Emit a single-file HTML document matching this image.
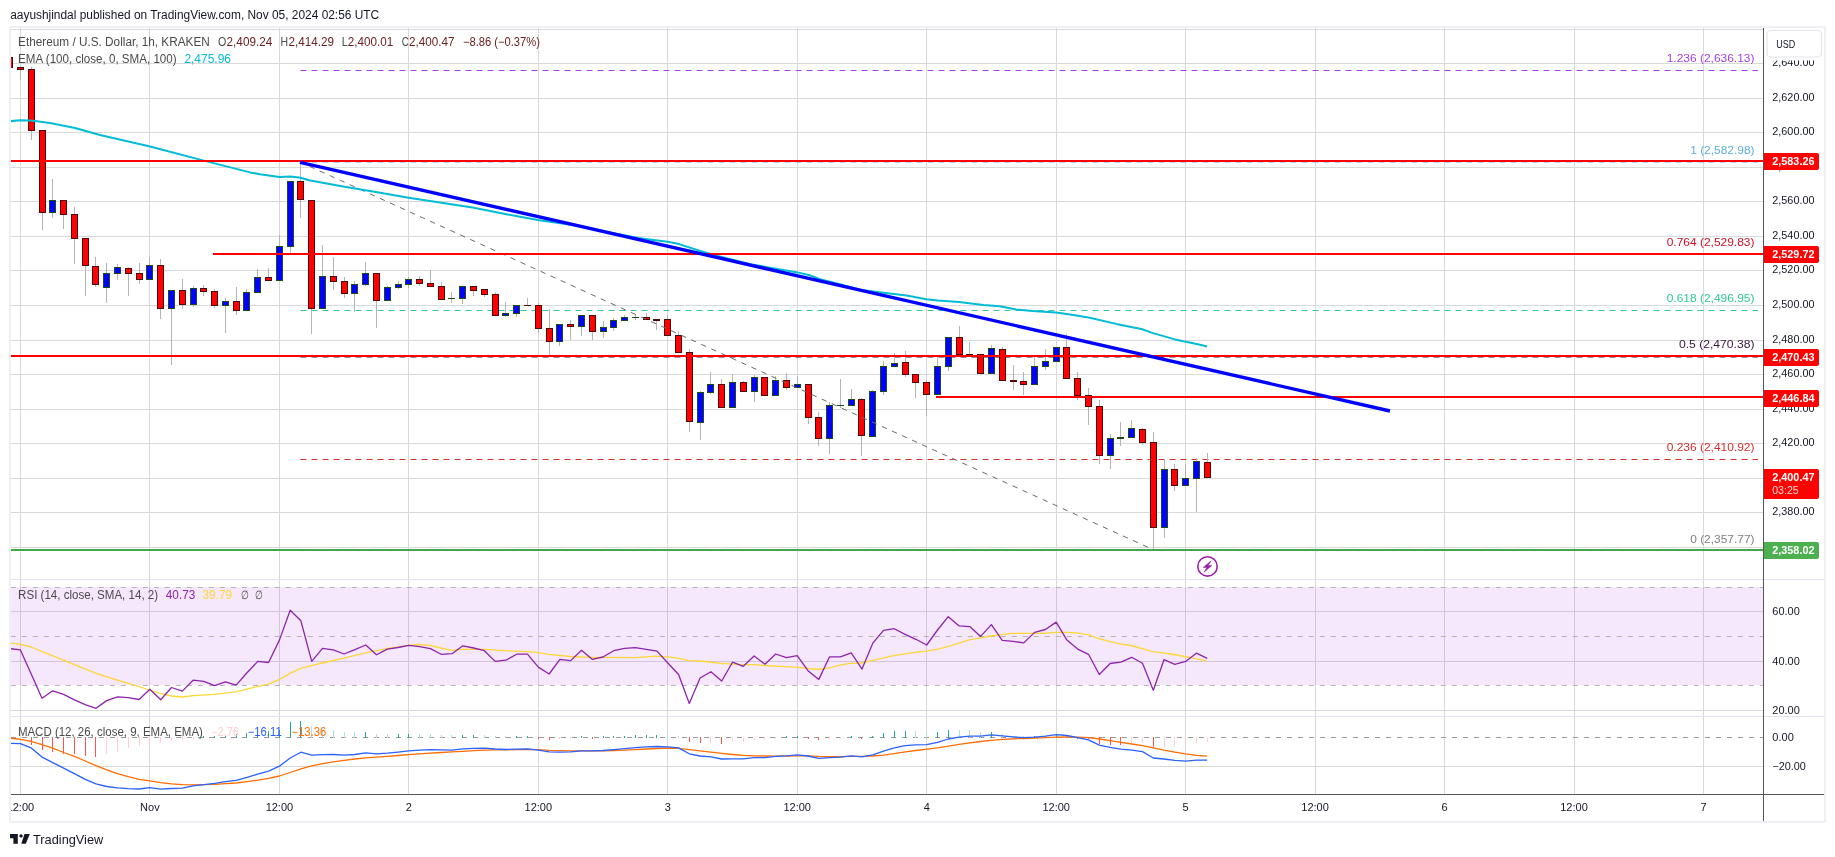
<!DOCTYPE html><html><head><meta charset="utf-8"><title>ETHUSD</title><style>html,body{margin:0;padding:0;background:#fff}body{width:1835px;height:857px;overflow:hidden;font-family:"Liberation Sans",sans-serif}</style></head><body><svg width="1835" height="857" viewBox="0 0 1835 857" style="display:block;will-change:transform;opacity:0.999">
<rect width="1835" height="857" fill="#fff"/>
<rect x="10" y="27" width="1815" height="795" fill="#fff" stroke="#eef0f6" stroke-width="2"/>
<defs><clipPath id="cm"><rect x="11" y="28" width="1752" height="551"/></clipPath><clipPath id="cr"><rect x="11" y="580" width="1752" height="136"/></clipPath><clipPath id="cd"><rect x="11" y="717" width="1752" height="77"/></clipPath></defs>
<g shape-rendering="crispEdges" fill="#d9d9d9">
<rect x="20" y="28" width="1" height="766"/>
<rect x="149" y="28" width="1" height="766"/>
<rect x="279" y="28" width="1" height="766"/>
<rect x="408" y="28" width="1" height="766"/>
<rect x="538" y="28" width="1" height="766"/>
<rect x="667" y="28" width="1" height="766"/>
<rect x="797" y="28" width="1" height="766"/>
<rect x="926" y="28" width="1" height="766"/>
<rect x="1056" y="28" width="1" height="766"/>
<rect x="1185" y="28" width="1" height="766"/>
<rect x="1315" y="28" width="1" height="766"/>
<rect x="1444" y="28" width="1" height="766"/>
<rect x="1574" y="28" width="1" height="766"/>
<rect x="1703" y="28" width="1" height="766"/>
<rect x="11" y="29" width="1752" height="1"/>
<rect x="11" y="63" width="1752" height="1"/>
<rect x="11" y="98" width="1752" height="1"/>
<rect x="11" y="132" width="1752" height="1"/>
<rect x="11" y="167" width="1752" height="1"/>
<rect x="11" y="201" width="1752" height="1"/>
<rect x="11" y="236" width="1752" height="1"/>
<rect x="11" y="270" width="1752" height="1"/>
<rect x="11" y="305" width="1752" height="1"/>
<rect x="11" y="340" width="1752" height="1"/>
<rect x="11" y="374" width="1752" height="1"/>
<rect x="11" y="409" width="1752" height="1"/>
<rect x="11" y="443" width="1752" height="1"/>
<rect x="11" y="478" width="1752" height="1"/>
<rect x="11" y="512" width="1752" height="1"/>
<rect x="11" y="547" width="1752" height="1"/>
<rect x="11" y="611" width="1752" height="1"/>
<rect x="11" y="661" width="1752" height="1"/>
<rect x="11" y="710" width="1752" height="1"/>
<rect x="11" y="766" width="1752" height="1"/>
</g>
<rect x="11" y="587" width="1752" height="98" fill="rgb(170,60,230)" fill-opacity="0.12"/>
<g shape-rendering="crispEdges" fill="#e0e3eb"><rect x="11" y="579" width="1813" height="1"/><rect x="11" y="716" width="1813" height="1"/></g>
<g clip-path="url(#cm)">
<line x1="300.5" y1="70.5" x2="1758" y2="70.5" stroke="#a541e0" stroke-width="1.2" stroke-dasharray="6 5"/>
<line x1="300.5" y1="162.0" x2="1758" y2="162.0" stroke="#5cb0dc" stroke-width="1.2" stroke-dasharray="6 5"/>
<line x1="300.5" y1="254.0" x2="1758" y2="254.0" stroke="#cc1028" stroke-width="1.2" stroke-dasharray="6 5"/>
<line x1="300.5" y1="310.5" x2="1758" y2="310.5" stroke="#2fc894" stroke-width="1.2" stroke-dasharray="6 5"/>
<line x1="300.5" y1="356.9" x2="1758" y2="356.9" stroke="#3a1540" stroke-width="1.2" stroke-dasharray="6 5"/>
<line x1="300.5" y1="459.5" x2="1758" y2="459.5" stroke="#d32f2f" stroke-width="1.2" stroke-dasharray="6 5"/>
<g shape-rendering="crispEdges">
<rect x="9" y="57" width="1" height="10" fill="#b4b4b4"/>
<rect x="20" y="67" width="1" height="13" fill="#b4b4b4"/>
<rect x="31" y="67" width="1" height="73" fill="#b4b4b4"/>
<rect x="42" y="130" width="1" height="100" fill="#b4b4b4"/>
<rect x="52" y="179" width="1" height="39" fill="#b4b4b4"/>
<rect x="63" y="200" width="1" height="29" fill="#b4b4b4"/>
<rect x="74" y="207" width="1" height="57" fill="#b4b4b4"/>
<rect x="85" y="238" width="1" height="58" fill="#b4b4b4"/>
<rect x="95" y="257" width="1" height="30" fill="#b4b4b4"/>
<rect x="106" y="263" width="1" height="40" fill="#b4b4b4"/>
<rect x="117" y="264" width="1" height="16" fill="#b4b4b4"/>
<rect x="128" y="267" width="1" height="29" fill="#b4b4b4"/>
<rect x="139" y="263" width="1" height="21" fill="#b4b4b4"/>
<rect x="149" y="257" width="1" height="23" fill="#b4b4b4"/>
<rect x="160" y="259" width="1" height="60" fill="#b4b4b4"/>
<rect x="171" y="290" width="1" height="75" fill="#b4b4b4"/>
<rect x="182" y="279" width="1" height="30" fill="#b4b4b4"/>
<rect x="193" y="286" width="1" height="21" fill="#b4b4b4"/>
<rect x="203" y="285" width="1" height="11" fill="#b4b4b4"/>
<rect x="214" y="289" width="1" height="19" fill="#b4b4b4"/>
<rect x="225" y="298" width="1" height="35" fill="#b4b4b4"/>
<rect x="236" y="287" width="1" height="28" fill="#b4b4b4"/>
<rect x="246" y="289" width="1" height="22" fill="#b4b4b4"/>
<rect x="257" y="269" width="1" height="23" fill="#b4b4b4"/>
<rect x="268" y="268" width="1" height="13" fill="#b4b4b4"/>
<rect x="279" y="235" width="1" height="45" fill="#b4b4b4"/>
<rect x="290" y="181" width="1" height="72" fill="#b4b4b4"/>
<rect x="300" y="162" width="1" height="56" fill="#b4b4b4"/>
<rect x="311" y="200" width="1" height="134" fill="#b4b4b4"/>
<rect x="322" y="245" width="1" height="63" fill="#b4b4b4"/>
<rect x="333" y="257" width="1" height="33" fill="#b4b4b4"/>
<rect x="344" y="277" width="1" height="21" fill="#b4b4b4"/>
<rect x="354" y="281" width="1" height="31" fill="#b4b4b4"/>
<rect x="365" y="262" width="1" height="24" fill="#b4b4b4"/>
<rect x="376" y="273" width="1" height="55" fill="#b4b4b4"/>
<rect x="387" y="286" width="1" height="15" fill="#b4b4b4"/>
<rect x="398" y="281" width="1" height="8" fill="#b4b4b4"/>
<rect x="408" y="277" width="1" height="11" fill="#b4b4b4"/>
<rect x="419" y="276" width="1" height="10" fill="#b4b4b4"/>
<rect x="430" y="270" width="1" height="17" fill="#b4b4b4"/>
<rect x="441" y="282" width="1" height="18" fill="#b4b4b4"/>
<rect x="451" y="292" width="1" height="11" fill="#b4b4b4"/>
<rect x="462" y="286" width="1" height="18" fill="#b4b4b4"/>
<rect x="473" y="286" width="1" height="10" fill="#b4b4b4"/>
<rect x="484" y="289" width="1" height="8" fill="#b4b4b4"/>
<rect x="495" y="292" width="1" height="24" fill="#b4b4b4"/>
<rect x="505" y="302" width="1" height="15" fill="#b4b4b4"/>
<rect x="516" y="305" width="1" height="12" fill="#b4b4b4"/>
<rect x="527" y="298" width="1" height="8" fill="#b4b4b4"/>
<rect x="538" y="303" width="1" height="30" fill="#b4b4b4"/>
<rect x="549" y="309" width="1" height="46" fill="#b4b4b4"/>
<rect x="559" y="324" width="1" height="22" fill="#b4b4b4"/>
<rect x="570" y="320" width="1" height="20" fill="#b4b4b4"/>
<rect x="581" y="315" width="1" height="21" fill="#b4b4b4"/>
<rect x="592" y="315" width="1" height="25" fill="#b4b4b4"/>
<rect x="603" y="321" width="1" height="17" fill="#b4b4b4"/>
<rect x="613" y="318" width="1" height="13" fill="#b4b4b4"/>
<rect x="624" y="315" width="1" height="5" fill="#b4b4b4"/>
<rect x="635" y="315" width="1" height="5" fill="#b4b4b4"/>
<rect x="646" y="313" width="1" height="7" fill="#b4b4b4"/>
<rect x="656" y="319" width="1" height="11" fill="#b4b4b4"/>
<rect x="667" y="315" width="1" height="20" fill="#b4b4b4"/>
<rect x="678" y="331" width="1" height="21" fill="#b4b4b4"/>
<rect x="689" y="349" width="1" height="83" fill="#b4b4b4"/>
<rect x="700" y="391" width="1" height="49" fill="#b4b4b4"/>
<rect x="710" y="372" width="1" height="22" fill="#b4b4b4"/>
<rect x="721" y="379" width="1" height="29" fill="#b4b4b4"/>
<rect x="732" y="374" width="1" height="34" fill="#b4b4b4"/>
<rect x="743" y="381" width="1" height="10" fill="#b4b4b4"/>
<rect x="754" y="375" width="1" height="27" fill="#b4b4b4"/>
<rect x="764" y="377" width="1" height="19" fill="#b4b4b4"/>
<rect x="775" y="376" width="1" height="20" fill="#b4b4b4"/>
<rect x="786" y="373" width="1" height="17" fill="#b4b4b4"/>
<rect x="797" y="376" width="1" height="11" fill="#b4b4b4"/>
<rect x="808" y="384" width="1" height="40" fill="#b4b4b4"/>
<rect x="818" y="412" width="1" height="34" fill="#b4b4b4"/>
<rect x="829" y="402" width="1" height="52" fill="#b4b4b4"/>
<rect x="840" y="379" width="1" height="29" fill="#b4b4b4"/>
<rect x="851" y="389" width="1" height="17" fill="#b4b4b4"/>
<rect x="861" y="398" width="1" height="58" fill="#b4b4b4"/>
<rect x="872" y="390" width="1" height="47" fill="#b4b4b4"/>
<rect x="883" y="361" width="1" height="34" fill="#b4b4b4"/>
<rect x="894" y="353" width="1" height="14" fill="#b4b4b4"/>
<rect x="905" y="351" width="1" height="26" fill="#b4b4b4"/>
<rect x="915" y="374" width="1" height="24" fill="#b4b4b4"/>
<rect x="926" y="380" width="1" height="36" fill="#b4b4b4"/>
<rect x="937" y="357" width="1" height="37" fill="#b4b4b4"/>
<rect x="948" y="337" width="1" height="34" fill="#b4b4b4"/>
<rect x="959" y="326" width="1" height="28" fill="#b4b4b4"/>
<rect x="969" y="342" width="1" height="13" fill="#b4b4b4"/>
<rect x="980" y="354" width="1" height="19" fill="#b4b4b4"/>
<rect x="991" y="345" width="1" height="28" fill="#b4b4b4"/>
<rect x="1002" y="347" width="1" height="33" fill="#b4b4b4"/>
<rect x="1013" y="365" width="1" height="25" fill="#b4b4b4"/>
<rect x="1023" y="372" width="1" height="23" fill="#b4b4b4"/>
<rect x="1034" y="357" width="1" height="27" fill="#b4b4b4"/>
<rect x="1045" y="349" width="1" height="21" fill="#b4b4b4"/>
<rect x="1056" y="347" width="1" height="15" fill="#b4b4b4"/>
<rect x="1066" y="334" width="1" height="45" fill="#b4b4b4"/>
<rect x="1077" y="372" width="1" height="28" fill="#b4b4b4"/>
<rect x="1088" y="388" width="1" height="37" fill="#b4b4b4"/>
<rect x="1099" y="400" width="1" height="64" fill="#b4b4b4"/>
<rect x="1110" y="434" width="1" height="35" fill="#b4b4b4"/>
<rect x="1120" y="422" width="1" height="24" fill="#b4b4b4"/>
<rect x="1131" y="420" width="1" height="18" fill="#b4b4b4"/>
<rect x="1142" y="428" width="1" height="17" fill="#b4b4b4"/>
<rect x="1153" y="432" width="1" height="117" fill="#b4b4b4"/>
<rect x="1164" y="459" width="1" height="79" fill="#b4b4b4"/>
<rect x="1174" y="464" width="1" height="27" fill="#b4b4b4"/>
<rect x="1185" y="464" width="1" height="22" fill="#b4b4b4"/>
<rect x="1196" y="458" width="1" height="54" fill="#b4b4b4"/>
<rect x="1207" y="453" width="1" height="25" fill="#b4b4b4"/>
<rect x="6" y="57" width="7" height="11" fill="#4d0a0a"/>
<rect x="7" y="58" width="5" height="9" fill="#ff0000"/>
<rect x="17" y="67" width="7" height="3" fill="#4d0a0a"/>
<rect x="18" y="68" width="5" height="1" fill="#ff0000"/>
<rect x="28" y="69" width="7" height="62" fill="#4d0a0a"/>
<rect x="29" y="70" width="5" height="60" fill="#ff0000"/>
<rect x="39" y="130" width="7" height="83" fill="#4d0a0a"/>
<rect x="40" y="131" width="5" height="81" fill="#ff0000"/>
<rect x="49" y="200" width="7" height="13" fill="#1d4a1d"/>
<rect x="50" y="201" width="5" height="11" fill="#0000ff"/>
<rect x="60" y="200" width="7" height="15" fill="#4d0a0a"/>
<rect x="61" y="201" width="5" height="13" fill="#ff0000"/>
<rect x="71" y="214" width="7" height="25" fill="#4d0a0a"/>
<rect x="72" y="215" width="5" height="23" fill="#ff0000"/>
<rect x="82" y="238" width="7" height="28" fill="#4d0a0a"/>
<rect x="83" y="239" width="5" height="26" fill="#ff0000"/>
<rect x="92" y="266" width="7" height="19" fill="#4d0a0a"/>
<rect x="93" y="267" width="5" height="17" fill="#ff0000"/>
<rect x="103" y="273" width="7" height="15" fill="#1d4a1d"/>
<rect x="104" y="274" width="5" height="13" fill="#0000ff"/>
<rect x="114" y="267" width="7" height="7" fill="#1d4a1d"/>
<rect x="115" y="268" width="5" height="5" fill="#0000ff"/>
<rect x="125" y="268" width="7" height="6" fill="#4d0a0a"/>
<rect x="126" y="269" width="5" height="4" fill="#ff0000"/>
<rect x="136" y="273" width="7" height="7" fill="#4d0a0a"/>
<rect x="137" y="274" width="5" height="5" fill="#ff0000"/>
<rect x="146" y="265" width="7" height="15" fill="#1d4a1d"/>
<rect x="147" y="266" width="5" height="13" fill="#0000ff"/>
<rect x="157" y="265" width="7" height="44" fill="#4d0a0a"/>
<rect x="158" y="266" width="5" height="42" fill="#ff0000"/>
<rect x="168" y="290" width="7" height="19" fill="#1d4a1d"/>
<rect x="169" y="291" width="5" height="17" fill="#0000ff"/>
<rect x="179" y="290" width="7" height="15" fill="#4d0a0a"/>
<rect x="180" y="291" width="5" height="13" fill="#ff0000"/>
<rect x="190" y="288" width="7" height="17" fill="#1d4a1d"/>
<rect x="191" y="289" width="5" height="15" fill="#0000ff"/>
<rect x="200" y="288" width="7" height="4" fill="#4d0a0a"/>
<rect x="201" y="289" width="5" height="2" fill="#ff0000"/>
<rect x="211" y="291" width="7" height="15" fill="#4d0a0a"/>
<rect x="212" y="292" width="5" height="13" fill="#ff0000"/>
<rect x="222" y="301" width="7" height="5" fill="#1d4a1d"/>
<rect x="223" y="302" width="5" height="3" fill="#0000ff"/>
<rect x="233" y="301" width="7" height="10" fill="#4d0a0a"/>
<rect x="234" y="302" width="5" height="8" fill="#ff0000"/>
<rect x="243" y="292" width="7" height="19" fill="#1d4a1d"/>
<rect x="244" y="293" width="5" height="17" fill="#0000ff"/>
<rect x="254" y="277" width="7" height="16" fill="#1d4a1d"/>
<rect x="255" y="278" width="5" height="14" fill="#0000ff"/>
<rect x="265" y="277" width="7" height="4" fill="#4d0a0a"/>
<rect x="266" y="278" width="5" height="2" fill="#ff0000"/>
<rect x="276" y="246" width="7" height="35" fill="#1d4a1d"/>
<rect x="277" y="247" width="5" height="33" fill="#0000ff"/>
<rect x="287" y="181" width="7" height="66" fill="#1d4a1d"/>
<rect x="288" y="182" width="5" height="64" fill="#0000ff"/>
<rect x="297" y="181" width="7" height="19" fill="#4d0a0a"/>
<rect x="298" y="182" width="5" height="17" fill="#ff0000"/>
<rect x="308" y="200" width="7" height="109" fill="#4d0a0a"/>
<rect x="309" y="201" width="5" height="107" fill="#ff0000"/>
<rect x="319" y="276" width="7" height="33" fill="#1d4a1d"/>
<rect x="320" y="277" width="5" height="31" fill="#0000ff"/>
<rect x="330" y="276" width="7" height="6" fill="#4d0a0a"/>
<rect x="331" y="277" width="5" height="4" fill="#ff0000"/>
<rect x="341" y="281" width="7" height="13" fill="#4d0a0a"/>
<rect x="342" y="282" width="5" height="11" fill="#ff0000"/>
<rect x="351" y="284" width="7" height="10" fill="#1d4a1d"/>
<rect x="352" y="285" width="5" height="8" fill="#0000ff"/>
<rect x="362" y="273" width="7" height="12" fill="#1d4a1d"/>
<rect x="363" y="274" width="5" height="10" fill="#0000ff"/>
<rect x="373" y="273" width="7" height="28" fill="#4d0a0a"/>
<rect x="374" y="274" width="5" height="26" fill="#ff0000"/>
<rect x="384" y="287" width="7" height="14" fill="#1d4a1d"/>
<rect x="385" y="288" width="5" height="12" fill="#0000ff"/>
<rect x="395" y="284" width="7" height="4" fill="#1d4a1d"/>
<rect x="396" y="285" width="5" height="2" fill="#0000ff"/>
<rect x="405" y="279" width="7" height="6" fill="#1d4a1d"/>
<rect x="406" y="280" width="5" height="4" fill="#0000ff"/>
<rect x="416" y="279" width="7" height="5" fill="#4d0a0a"/>
<rect x="417" y="280" width="5" height="3" fill="#ff0000"/>
<rect x="427" y="283" width="7" height="4" fill="#4d0a0a"/>
<rect x="428" y="284" width="5" height="2" fill="#ff0000"/>
<rect x="438" y="286" width="7" height="14" fill="#4d0a0a"/>
<rect x="439" y="287" width="5" height="12" fill="#ff0000"/>
<rect x="448" y="298" width="7" height="1" fill="#1d4a1d"/>
<rect x="459" y="286" width="7" height="13" fill="#1d4a1d"/>
<rect x="460" y="287" width="5" height="11" fill="#0000ff"/>
<rect x="470" y="286" width="7" height="5" fill="#4d0a0a"/>
<rect x="471" y="287" width="5" height="3" fill="#ff0000"/>
<rect x="481" y="289" width="7" height="6" fill="#4d0a0a"/>
<rect x="482" y="290" width="5" height="4" fill="#ff0000"/>
<rect x="492" y="294" width="7" height="22" fill="#4d0a0a"/>
<rect x="493" y="295" width="5" height="20" fill="#ff0000"/>
<rect x="502" y="313" width="7" height="3" fill="#1d4a1d"/>
<rect x="503" y="314" width="5" height="1" fill="#0000ff"/>
<rect x="513" y="305" width="7" height="9" fill="#1d4a1d"/>
<rect x="514" y="306" width="5" height="7" fill="#0000ff"/>
<rect x="524" y="305" width="7" height="1" fill="#4d0a0a"/>
<rect x="535" y="305" width="7" height="24" fill="#4d0a0a"/>
<rect x="536" y="306" width="5" height="22" fill="#ff0000"/>
<rect x="546" y="328" width="7" height="14" fill="#4d0a0a"/>
<rect x="547" y="329" width="5" height="12" fill="#ff0000"/>
<rect x="556" y="324" width="7" height="18" fill="#1d4a1d"/>
<rect x="557" y="325" width="5" height="16" fill="#0000ff"/>
<rect x="567" y="324" width="7" height="3" fill="#4d0a0a"/>
<rect x="568" y="325" width="5" height="1" fill="#ff0000"/>
<rect x="578" y="315" width="7" height="12" fill="#1d4a1d"/>
<rect x="579" y="316" width="5" height="10" fill="#0000ff"/>
<rect x="589" y="315" width="7" height="17" fill="#4d0a0a"/>
<rect x="590" y="316" width="5" height="15" fill="#ff0000"/>
<rect x="600" y="327" width="7" height="5" fill="#1d4a1d"/>
<rect x="601" y="328" width="5" height="3" fill="#0000ff"/>
<rect x="610" y="320" width="7" height="8" fill="#1d4a1d"/>
<rect x="611" y="321" width="5" height="6" fill="#0000ff"/>
<rect x="621" y="317" width="7" height="4" fill="#1d4a1d"/>
<rect x="622" y="318" width="5" height="2" fill="#0000ff"/>
<rect x="632" y="317" width="7" height="1" fill="#1d4a1d"/>
<rect x="643" y="317" width="7" height="3" fill="#4d0a0a"/>
<rect x="644" y="318" width="5" height="1" fill="#ff0000"/>
<rect x="653" y="319" width="7" height="2" fill="#4d0a0a"/>
<rect x="664" y="319" width="7" height="17" fill="#4d0a0a"/>
<rect x="665" y="320" width="5" height="15" fill="#ff0000"/>
<rect x="675" y="335" width="7" height="18" fill="#4d0a0a"/>
<rect x="676" y="336" width="5" height="16" fill="#ff0000"/>
<rect x="686" y="352" width="7" height="70" fill="#4d0a0a"/>
<rect x="687" y="353" width="5" height="68" fill="#ff0000"/>
<rect x="697" y="392" width="7" height="31" fill="#1d4a1d"/>
<rect x="698" y="393" width="5" height="29" fill="#0000ff"/>
<rect x="707" y="384" width="7" height="9" fill="#1d4a1d"/>
<rect x="708" y="385" width="5" height="7" fill="#0000ff"/>
<rect x="718" y="384" width="7" height="24" fill="#4d0a0a"/>
<rect x="719" y="385" width="5" height="22" fill="#ff0000"/>
<rect x="729" y="382" width="7" height="26" fill="#1d4a1d"/>
<rect x="730" y="383" width="5" height="24" fill="#0000ff"/>
<rect x="740" y="382" width="7" height="10" fill="#4d0a0a"/>
<rect x="741" y="383" width="5" height="8" fill="#ff0000"/>
<rect x="751" y="377" width="7" height="15" fill="#1d4a1d"/>
<rect x="752" y="378" width="5" height="13" fill="#0000ff"/>
<rect x="761" y="377" width="7" height="19" fill="#4d0a0a"/>
<rect x="762" y="378" width="5" height="17" fill="#ff0000"/>
<rect x="772" y="380" width="7" height="16" fill="#1d4a1d"/>
<rect x="773" y="381" width="5" height="14" fill="#0000ff"/>
<rect x="783" y="380" width="7" height="8" fill="#4d0a0a"/>
<rect x="784" y="381" width="5" height="6" fill="#ff0000"/>
<rect x="794" y="384" width="7" height="4" fill="#1d4a1d"/>
<rect x="795" y="385" width="5" height="2" fill="#0000ff"/>
<rect x="805" y="384" width="7" height="34" fill="#4d0a0a"/>
<rect x="806" y="385" width="5" height="32" fill="#ff0000"/>
<rect x="815" y="417" width="7" height="22" fill="#4d0a0a"/>
<rect x="816" y="418" width="5" height="20" fill="#ff0000"/>
<rect x="826" y="405" width="7" height="34" fill="#1d4a1d"/>
<rect x="827" y="406" width="5" height="32" fill="#0000ff"/>
<rect x="837" y="405" width="7" height="1" fill="#1d4a1d"/>
<rect x="848" y="399" width="7" height="7" fill="#1d4a1d"/>
<rect x="849" y="400" width="5" height="5" fill="#0000ff"/>
<rect x="858" y="399" width="7" height="37" fill="#4d0a0a"/>
<rect x="859" y="400" width="5" height="35" fill="#ff0000"/>
<rect x="869" y="391" width="7" height="46" fill="#1d4a1d"/>
<rect x="870" y="392" width="5" height="44" fill="#0000ff"/>
<rect x="880" y="366" width="7" height="26" fill="#1d4a1d"/>
<rect x="881" y="367" width="5" height="24" fill="#0000ff"/>
<rect x="891" y="363" width="7" height="4" fill="#1d4a1d"/>
<rect x="892" y="364" width="5" height="2" fill="#0000ff"/>
<rect x="902" y="362" width="7" height="13" fill="#4d0a0a"/>
<rect x="903" y="363" width="5" height="11" fill="#ff0000"/>
<rect x="912" y="374" width="7" height="9" fill="#4d0a0a"/>
<rect x="913" y="375" width="5" height="7" fill="#ff0000"/>
<rect x="923" y="382" width="7" height="13" fill="#4d0a0a"/>
<rect x="924" y="383" width="5" height="11" fill="#ff0000"/>
<rect x="934" y="366" width="7" height="29" fill="#1d4a1d"/>
<rect x="935" y="367" width="5" height="27" fill="#0000ff"/>
<rect x="945" y="337" width="7" height="30" fill="#1d4a1d"/>
<rect x="946" y="338" width="5" height="28" fill="#0000ff"/>
<rect x="956" y="337" width="7" height="18" fill="#4d0a0a"/>
<rect x="957" y="338" width="5" height="16" fill="#ff0000"/>
<rect x="966" y="354" width="7" height="1" fill="#4d0a0a"/>
<rect x="977" y="354" width="7" height="20" fill="#4d0a0a"/>
<rect x="978" y="355" width="5" height="18" fill="#ff0000"/>
<rect x="988" y="348" width="7" height="26" fill="#1d4a1d"/>
<rect x="989" y="349" width="5" height="24" fill="#0000ff"/>
<rect x="999" y="349" width="7" height="32" fill="#4d0a0a"/>
<rect x="1000" y="350" width="5" height="30" fill="#ff0000"/>
<rect x="1010" y="380" width="7" height="2" fill="#4d0a0a"/>
<rect x="1020" y="381" width="7" height="4" fill="#4d0a0a"/>
<rect x="1021" y="382" width="5" height="2" fill="#ff0000"/>
<rect x="1031" y="366" width="7" height="19" fill="#1d4a1d"/>
<rect x="1032" y="367" width="5" height="17" fill="#0000ff"/>
<rect x="1042" y="361" width="7" height="6" fill="#1d4a1d"/>
<rect x="1043" y="362" width="5" height="4" fill="#0000ff"/>
<rect x="1053" y="347" width="7" height="15" fill="#1d4a1d"/>
<rect x="1054" y="348" width="5" height="13" fill="#0000ff"/>
<rect x="1063" y="347" width="7" height="32" fill="#4d0a0a"/>
<rect x="1064" y="348" width="5" height="30" fill="#ff0000"/>
<rect x="1074" y="378" width="7" height="18" fill="#4d0a0a"/>
<rect x="1075" y="379" width="5" height="16" fill="#ff0000"/>
<rect x="1085" y="395" width="7" height="12" fill="#4d0a0a"/>
<rect x="1086" y="396" width="5" height="10" fill="#ff0000"/>
<rect x="1096" y="406" width="7" height="50" fill="#4d0a0a"/>
<rect x="1097" y="407" width="5" height="48" fill="#ff0000"/>
<rect x="1107" y="438" width="7" height="18" fill="#1d4a1d"/>
<rect x="1108" y="439" width="5" height="16" fill="#0000ff"/>
<rect x="1117" y="437" width="7" height="2" fill="#1d4a1d"/>
<rect x="1128" y="428" width="7" height="10" fill="#1d4a1d"/>
<rect x="1129" y="429" width="5" height="8" fill="#0000ff"/>
<rect x="1139" y="429" width="7" height="14" fill="#4d0a0a"/>
<rect x="1140" y="430" width="5" height="12" fill="#ff0000"/>
<rect x="1150" y="442" width="7" height="86" fill="#4d0a0a"/>
<rect x="1151" y="443" width="5" height="84" fill="#ff0000"/>
<rect x="1161" y="469" width="7" height="59" fill="#1d4a1d"/>
<rect x="1162" y="470" width="5" height="57" fill="#0000ff"/>
<rect x="1171" y="469" width="7" height="17" fill="#4d0a0a"/>
<rect x="1172" y="470" width="5" height="15" fill="#ff0000"/>
<rect x="1182" y="478" width="7" height="8" fill="#1d4a1d"/>
<rect x="1183" y="479" width="5" height="6" fill="#0000ff"/>
<rect x="1193" y="461" width="7" height="18" fill="#1d4a1d"/>
<rect x="1194" y="462" width="5" height="16" fill="#0000ff"/>
<rect x="1204" y="462" width="7" height="16" fill="#4d0a0a"/>
<rect x="1205" y="463" width="5" height="14" fill="#ff0000"/>
</g>
<line x1="300.6" y1="162.3" x2="1153.5" y2="549.8" stroke="#6a6a6a" stroke-width="1" stroke-dasharray="5.4 5.63" stroke-dashoffset="1.2"/>
<polyline points="10.3,121.2 20.0,120.2 31.0,120.5 50.0,123.0 75.0,128.0 100.0,135.0 149.0,146.2 200.0,159.6 250.0,172.4 260.0,174.2 279.5,177.0 290.4,176.6 300.7,177.8 309.0,180.2 341.7,186.3 374.4,191.7 408.6,197.7 439.8,202.6 472.5,207.5 505.2,214.1 537.9,220.0 580.9,226.3 613.6,233.3 638.1,237.9 667.5,241.7 679.0,244.1 703.5,252.0 719.8,256.4 752.5,264.6 797.5,272.4 809.7,275.2 820.0,279.2 840.0,284.2 860.9,289.9 885.4,293.1 906.6,295.6 926.3,299.2 937.7,300.5 959.0,302.1 983.5,304.9 999.8,306.2 1016.2,309.5 1032.5,311.1 1056.2,312.4 1073.4,314.9 1089.7,317.7 1116.2,323.9 1142.3,329.3 1152.1,332.9 1175.0,339.4 1197.9,344.3 1207.2,346.5" fill="none" stroke="#00bcd4" stroke-width="2" stroke-linejoin="round"/>
<g shape-rendering="crispEdges" fill="#ff0000">
<rect x="11" y="160" width="1752" height="2"/>
<rect x="213" y="253" width="1550" height="2"/>
<rect x="11" y="355" width="1752" height="2"/>
<rect x="936" y="396" width="827" height="2"/>
</g>
<rect x="11" y="549" width="1752" height="2" fill="#3daa44" shape-rendering="crispEdges"/>
<line x1="300.5" y1="550.6" x2="1758" y2="550.6" stroke="#6f8f72" stroke-opacity="0.55" stroke-width="1" stroke-dasharray="6 5"/>
<line x1="300" y1="162.3" x2="1390" y2="411" stroke="#0000ff" stroke-width="3.4"/>
<text x="1754.5" y="62.3" text-anchor="end" font-family="Liberation Sans, sans-serif" font-size="11.5" fill="#a541e0" textLength="87.8" lengthAdjust="spacingAndGlyphs">1.236 (2,636.13)</text>
<text x="1754.5" y="153.7" text-anchor="end" font-family="Liberation Sans, sans-serif" font-size="11.5" fill="#5cb0dc" textLength="64.3" lengthAdjust="spacingAndGlyphs">1 (2,582.98)</text>
<text x="1754.5" y="245.7" text-anchor="end" font-family="Liberation Sans, sans-serif" font-size="11.5" fill="#cc1028" textLength="87.8" lengthAdjust="spacingAndGlyphs">0.764 (2,529.83)</text>
<text x="1754.5" y="302.3" text-anchor="end" font-family="Liberation Sans, sans-serif" font-size="11.5" fill="#2fc894" textLength="87.8" lengthAdjust="spacingAndGlyphs">0.618 (2,496.95)</text>
<text x="1754.5" y="348.2" text-anchor="end" font-family="Liberation Sans, sans-serif" font-size="11.5" fill="#3a1540" textLength="75.5" lengthAdjust="spacingAndGlyphs">0.5 (2,470.38)</text>
<text x="1754.5" y="451.0" text-anchor="end" font-family="Liberation Sans, sans-serif" font-size="11.5" fill="#d32f2f" textLength="87.8" lengthAdjust="spacingAndGlyphs">0.236 (2,410.92)</text>
<text x="1754.5" y="542.5" text-anchor="end" font-family="Liberation Sans, sans-serif" font-size="11.5" fill="#808080" textLength="64.3" lengthAdjust="spacingAndGlyphs">0 (2,357.77)</text>
<circle cx="1207.5" cy="566.4" r="9.7" fill="#fff" stroke="#9c1fa8" stroke-width="1.6"/>
<path d="M1211.2 560.8 L1203.2 567.4 L1206.9 567.4 L1203.9 572.2 L1211.9 565.5 L1208.2 565.5 Z" fill="#9c1fa8" stroke="#9c1fa8" stroke-width="0.5" stroke-linejoin="round"/>
</g>
<g clip-path="url(#cr)">
<line x1="11" y1="587.5" x2="1763" y2="587.5" stroke="#b4b4b4" stroke-width="1" stroke-dasharray="5 6" stroke-dashoffset="0.2"/>
<line x1="11" y1="636.5" x2="1763" y2="636.5" stroke="#b4b4b4" stroke-width="1" stroke-dasharray="5 6" stroke-dashoffset="0.2"/>
<line x1="11" y1="685.5" x2="1763" y2="685.5" stroke="#b4b4b4" stroke-width="1" stroke-dasharray="5 6" stroke-dashoffset="0.2"/>
<polyline points="10.3,643.1 20.4,644.2 31.0,647.0 52.3,655.7 74.4,664.6 94.8,672.8 117.4,680.2 139.0,686.7 149.1,690.0 160.2,693.3 171.7,696.0 181.8,697.0 192.9,695.7 214.2,694.4 235.7,691.9 257.0,686.7 267.8,684.3 279.0,679.7 289.9,673.4 300.6,668.4 322.2,663.0 343.8,658.1 365.4,652.9 386.9,648.6 408.5,645.4 419.1,644.5 430.1,645.4 440.7,648.0 451.5,650.3 462.3,649.4 483.9,649.4 505.5,650.7 527.0,651.6 537.8,652.7 548.6,654.3 570.2,656.5 590.0,657.3 602.5,657.3 634.8,657.6 656.3,656.1 667.1,656.8 678.1,658.1 688.7,660.6 699.5,661.0 721.1,663.3 742.7,664.6 753.4,664.6 764.2,665.5 785.8,666.6 796.6,667.1 807.2,668.4 818.0,669.5 828.8,668.2 839.6,665.1 850.4,663.3 861.2,663.0 872.0,660.6 893.5,655.7 915.1,652.4 925.9,651.2 936.7,649.4 947.5,646.7 958.3,643.4 969.1,639.8 979.9,638.2 990.6,636.0 1001.4,634.7 1012.2,633.3 1044.5,633.3 1055.2,632.4 1066.0,632.4 1076.8,632.8 1087.6,634.7 1098.4,638.5 1109.2,641.3 1120.0,643.9 1130.7,645.5 1141.5,648.3 1152.3,651.6 1163.1,652.9 1173.9,654.5 1184.7,656.5 1195.5,658.6 1206.3,660.9" fill="none" stroke="#fdd835" stroke-width="1.3" stroke-linejoin="round"/>
<polyline points="9.6,648.6 20.4,649.9 31.2,674.0 42.0,698.2 52.8,690.8 63.6,694.4 74.4,699.8 85.2,704.7 96.0,708.3 106.7,700.6 117.5,696.8 128.3,697.7 139.1,699.5 149.9,689.2 160.7,699.8 171.5,687.5 182.3,691.1 193.1,680.2 203.8,681.3 214.6,685.6 225.4,681.8 236.2,685.1 247.0,672.8 257.8,661.4 268.6,662.5 279.4,640.1 290.2,610.2 300.9,620.8 311.7,661.4 322.5,648.3 333.3,649.9 344.1,654.0 354.9,649.6 365.7,645.0 376.5,654.8 387.3,649.1 398.0,647.5 408.8,645.4 419.6,646.7 430.4,648.6 441.2,654.3 452.0,653.7 462.8,645.8 473.6,648.0 484.4,650.7 495.1,661.4 505.9,660.2 516.7,654.2 527.5,654.2 538.3,667.1 549.1,674.0 559.9,659.4 570.7,660.6 581.5,650.3 592.2,659.3 603.0,657.0 613.8,650.7 624.6,648.3 635.4,647.6 646.2,649.4 657.0,651.1 667.8,663.0 678.6,674.5 689.3,703.4 700.1,678.0 710.9,671.7 721.7,681.0 732.5,662.2 743.3,666.3 754.1,656.0 764.9,664.2 775.7,654.0 786.4,657.6 797.2,655.7 808.0,670.7 818.8,679.4 829.6,656.8 840.4,656.8 851.2,652.9 862.0,669.1 872.8,643.2 883.5,630.3 894.3,628.7 905.1,634.4 915.9,639.3 926.7,645.0 937.5,630.0 948.3,616.7 959.1,625.9 969.8,626.6 980.6,636.4 991.4,624.6 1002.2,640.4 1013.0,641.3 1023.8,642.9 1034.6,632.4 1045.4,629.5 1056.2,622.1 1066.9,640.1 1077.7,649.1 1088.5,654.3 1099.3,674.5 1110.1,663.5 1120.9,662.2 1131.7,657.3 1142.5,663.3 1153.3,690.3 1164.0,659.7 1174.8,664.3 1185.6,661.4 1196.4,653.2 1207.2,658.4" fill="none" stroke="#8e24aa" stroke-width="1.3" stroke-linejoin="round"/>
</g>
<g clip-path="url(#cd)">
<line x1="11" y1="737.5" x2="1763" y2="737.5" stroke="#9a9a9a" stroke-width="1" stroke-dasharray="5 6"/>
<g shape-rendering="crispEdges">
<rect x="31" y="737" width="1" height="8" fill="#ff5252"/>
<rect x="42" y="737" width="1" height="13" fill="#ff5252"/>
<rect x="52" y="737" width="1" height="15" fill="#ff5252"/>
<rect x="63" y="737" width="1" height="17" fill="#ff5252"/>
<rect x="74" y="737" width="1" height="17" fill="#ff5252"/>
<rect x="85" y="737" width="1" height="19" fill="#ff5252"/>
<rect x="95" y="737" width="1" height="20" fill="#ff5252"/>
<rect x="106" y="737" width="1" height="17" fill="#ffcdd2"/>
<rect x="117" y="737" width="1" height="15" fill="#ffcdd2"/>
<rect x="128" y="737" width="1" height="11" fill="#ffcdd2"/>
<rect x="139" y="737" width="1" height="9" fill="#ffcdd2"/>
<rect x="149" y="737" width="1" height="6" fill="#ffcdd2"/>
<rect x="160" y="737" width="1" height="6" fill="#ffcdd2"/>
<rect x="171" y="737" width="1" height="4" fill="#ffcdd2"/>
<rect x="182" y="737" width="1" height="3" fill="#ffcdd2"/>
<rect x="193" y="737" width="1" height="2" fill="#ffcdd2"/>
<rect x="203" y="736" width="1" height="2" fill="#26a69a"/>
<rect x="214" y="736" width="1" height="2" fill="#26a69a"/>
<rect x="225" y="736" width="1" height="2" fill="#26a69a"/>
<rect x="236" y="734" width="1" height="4" fill="#26a69a"/>
<rect x="246" y="733" width="1" height="5" fill="#26a69a"/>
<rect x="257" y="732" width="1" height="6" fill="#26a69a"/>
<rect x="268" y="731" width="1" height="7" fill="#26a69a"/>
<rect x="279" y="730" width="1" height="8" fill="#26a69a"/>
<rect x="290" y="722" width="1" height="16" fill="#26a69a"/>
<rect x="300" y="721" width="1" height="17" fill="#26a69a"/>
<rect x="311" y="726" width="1" height="12" fill="#b2dfdb"/>
<rect x="322" y="730" width="1" height="8" fill="#b2dfdb"/>
<rect x="333" y="730" width="1" height="8" fill="#b2dfdb"/>
<rect x="344" y="732" width="1" height="6" fill="#b2dfdb"/>
<rect x="354" y="732" width="1" height="6" fill="#b2dfdb"/>
<rect x="365" y="732" width="1" height="6" fill="#26a69a"/>
<rect x="376" y="734" width="1" height="4" fill="#b2dfdb"/>
<rect x="387" y="734" width="1" height="4" fill="#b2dfdb"/>
<rect x="398" y="734" width="1" height="4" fill="#26a69a"/>
<rect x="408" y="734" width="1" height="4" fill="#26a69a"/>
<rect x="419" y="734" width="1" height="4" fill="#b2dfdb"/>
<rect x="430" y="734" width="1" height="4" fill="#b2dfdb"/>
<rect x="441" y="735" width="1" height="3" fill="#b2dfdb"/>
<rect x="451" y="735" width="1" height="3" fill="#b2dfdb"/>
<rect x="462" y="735" width="1" height="3" fill="#26a69a"/>
<rect x="473" y="735" width="1" height="3" fill="#26a69a"/>
<rect x="484" y="735" width="1" height="3" fill="#b2dfdb"/>
<rect x="495" y="736" width="1" height="2" fill="#b2dfdb"/>
<rect x="505" y="736" width="1" height="2" fill="#b2dfdb"/>
<rect x="516" y="736" width="1" height="2" fill="#26a69a"/>
<rect x="527" y="736" width="1" height="2" fill="#26a69a"/>
<rect x="538" y="737" width="1" height="2" fill="#ff5252"/>
<rect x="549" y="737" width="1" height="3" fill="#ff5252"/>
<rect x="559" y="737" width="1" height="2" fill="#ffcdd2"/>
<rect x="570" y="737" width="1" height="2" fill="#ffcdd2"/>
<rect x="581" y="736" width="1" height="2" fill="#26a69a"/>
<rect x="592" y="737" width="1" height="2" fill="#ff5252"/>
<rect x="603" y="736" width="1" height="2" fill="#26a69a"/>
<rect x="613" y="736" width="1" height="2" fill="#26a69a"/>
<rect x="624" y="736" width="1" height="2" fill="#26a69a"/>
<rect x="635" y="735" width="1" height="3" fill="#26a69a"/>
<rect x="646" y="735" width="1" height="3" fill="#26a69a"/>
<rect x="656" y="735" width="1" height="3" fill="#26a69a"/>
<rect x="667" y="736" width="1" height="2" fill="#b2dfdb"/>
<rect x="678" y="736" width="1" height="2" fill="#b2dfdb"/>
<rect x="689" y="737" width="1" height="5" fill="#ff5252"/>
<rect x="700" y="737" width="1" height="6" fill="#ff5252"/>
<rect x="710" y="737" width="1" height="6" fill="#ffcdd2"/>
<rect x="721" y="737" width="1" height="7" fill="#ff5252"/>
<rect x="732" y="737" width="1" height="5" fill="#ffcdd2"/>
<rect x="743" y="737" width="1" height="5" fill="#ffcdd2"/>
<rect x="754" y="737" width="1" height="3" fill="#ffcdd2"/>
<rect x="764" y="737" width="1" height="3" fill="#ffcdd2"/>
<rect x="775" y="737" width="1" height="2" fill="#ffcdd2"/>
<rect x="786" y="736" width="1" height="2" fill="#26a69a"/>
<rect x="797" y="736" width="1" height="2" fill="#26a69a"/>
<rect x="808" y="737" width="1" height="2" fill="#ff5252"/>
<rect x="818" y="737" width="1" height="3" fill="#ff5252"/>
<rect x="829" y="737" width="1" height="2" fill="#ffcdd2"/>
<rect x="840" y="737" width="1" height="2" fill="#ffcdd2"/>
<rect x="851" y="736" width="1" height="2" fill="#26a69a"/>
<rect x="861" y="737" width="1" height="2" fill="#ff5252"/>
<rect x="872" y="736" width="1" height="2" fill="#26a69a"/>
<rect x="883" y="733" width="1" height="5" fill="#26a69a"/>
<rect x="894" y="731" width="1" height="7" fill="#26a69a"/>
<rect x="905" y="731" width="1" height="7" fill="#26a69a"/>
<rect x="915" y="731" width="1" height="7" fill="#b2dfdb"/>
<rect x="926" y="732" width="1" height="6" fill="#b2dfdb"/>
<rect x="937" y="732" width="1" height="6" fill="#26a69a"/>
<rect x="948" y="730" width="1" height="8" fill="#26a69a"/>
<rect x="959" y="730" width="1" height="8" fill="#b2dfdb"/>
<rect x="969" y="730" width="1" height="8" fill="#b2dfdb"/>
<rect x="980" y="732" width="1" height="6" fill="#b2dfdb"/>
<rect x="991" y="732" width="1" height="6" fill="#26a69a"/>
<rect x="1002" y="734" width="1" height="4" fill="#b2dfdb"/>
<rect x="1013" y="736" width="1" height="2" fill="#b2dfdb"/>
<rect x="1023" y="736" width="1" height="2" fill="#b2dfdb"/>
<rect x="1034" y="736" width="1" height="2" fill="#26a69a"/>
<rect x="1045" y="736" width="1" height="2" fill="#26a69a"/>
<rect x="1056" y="735" width="1" height="3" fill="#26a69a"/>
<rect x="1066" y="736" width="1" height="2" fill="#b2dfdb"/>
<rect x="1077" y="737" width="1" height="2" fill="#ff5252"/>
<rect x="1088" y="737" width="1" height="2" fill="#ff5252"/>
<rect x="1099" y="737" width="1" height="7" fill="#ff5252"/>
<rect x="1110" y="737" width="1" height="8" fill="#ff5252"/>
<rect x="1120" y="737" width="1" height="8" fill="#ff5252"/>
<rect x="1131" y="737" width="1" height="6" fill="#ffcdd2"/>
<rect x="1142" y="737" width="1" height="6" fill="#ffcdd2"/>
<rect x="1153" y="737" width="1" height="11" fill="#ff5252"/>
<rect x="1164" y="737" width="1" height="10" fill="#ffcdd2"/>
<rect x="1174" y="737" width="1" height="9" fill="#ffcdd2"/>
<rect x="1185" y="737" width="1" height="8" fill="#ffcdd2"/>
<rect x="1196" y="737" width="1" height="6" fill="#ffcdd2"/>
<rect x="1207" y="737" width="1" height="5" fill="#ffcdd2"/>
</g>
<polyline points="9.6,738.1 20.4,739.4 31.2,741.4 42.0,744.7 52.8,748.2 63.6,752.5 74.4,756.4 85.2,761.0 96.0,765.6 106.7,769.9 117.5,773.7 128.3,776.7 139.1,779.3 149.9,780.9 160.7,782.6 171.5,783.9 182.3,784.7 193.1,784.9 203.8,784.6 214.6,784.3 225.4,783.6 236.2,783.0 247.0,781.7 257.8,780.2 268.6,778.4 279.4,776.0 290.2,772.5 300.9,768.9 311.7,765.8 322.5,763.6 333.3,761.8 344.1,760.4 354.9,759.0 365.7,757.9 376.5,757.1 387.3,756.3 398.0,755.5 408.8,754.7 419.6,753.8 430.4,753.1 441.2,752.5 452.0,751.9 462.8,751.3 473.6,750.7 484.4,750.2 495.1,749.9 505.9,749.8 516.7,749.6 527.5,749.4 538.3,749.6 549.1,750.3 559.9,750.7 570.7,750.9 581.5,750.9 592.2,750.9 603.0,750.8 613.8,750.5 624.6,750.2 635.4,749.6 646.2,749.0 657.0,748.5 667.8,748.2 678.6,748.3 689.3,749.6 700.1,750.9 710.9,752.1 721.7,753.4 732.5,754.5 743.3,755.4 754.1,755.8 764.9,756.0 775.7,756.2 786.4,756.0 797.2,755.8 808.0,755.8 818.8,756.4 829.6,756.7 840.4,756.7 851.2,756.4 862.0,756.4 872.8,756.0 883.5,755.1 894.3,753.6 905.1,751.9 915.9,750.5 926.7,749.2 937.5,747.9 948.3,746.2 959.1,744.4 969.8,742.8 980.6,741.5 991.4,740.3 1002.2,739.4 1013.0,738.8 1023.8,738.5 1034.6,738.1 1045.4,737.7 1056.2,737.2 1066.9,736.8 1077.7,737.1 1088.5,737.6 1099.3,739.0 1110.1,740.7 1120.9,742.4 1131.7,744.0 1142.5,745.6 1153.3,747.9 1164.0,750.2 1174.8,752.1 1185.6,753.9 1196.4,755.3 1207.2,756.2" fill="none" stroke="#ff6d00" stroke-width="1.3" stroke-linejoin="round"/>
<polyline points="9.6,743.4 20.4,743.7 31.2,747.9 42.0,757.1 52.8,762.7 63.6,768.2 74.4,773.7 85.2,779.3 96.0,783.9 106.7,786.5 117.5,787.8 128.3,788.6 139.1,789.0 149.9,787.7 160.7,789.1 171.5,788.5 182.3,788.1 193.1,785.9 203.8,784.6 214.6,783.3 225.4,781.7 236.2,780.4 247.0,777.4 257.8,774.1 268.6,771.1 279.4,766.2 290.2,758.0 300.9,752.2 311.7,755.1 322.5,754.6 333.3,754.5 344.1,755.1 354.9,754.5 365.7,752.9 376.5,753.9 387.3,753.2 398.0,752.1 408.8,750.9 419.6,750.2 430.4,749.6 441.2,749.9 452.0,750.2 462.8,748.8 473.6,748.3 484.4,748.1 495.1,749.0 505.9,749.5 516.7,749.2 527.5,748.8 538.3,750.2 549.1,751.9 559.9,752.1 570.7,751.9 581.5,750.9 592.2,750.8 603.0,750.5 613.8,749.6 624.6,748.7 635.4,747.7 646.2,746.9 657.0,746.5 667.8,746.8 678.6,747.9 689.3,753.8 700.1,756.0 710.9,756.8 721.7,759.0 732.5,758.8 743.3,758.8 754.1,757.7 764.9,757.7 775.7,756.4 786.4,755.8 797.2,754.9 808.0,756.0 818.8,758.4 829.6,757.7 840.4,757.1 851.2,755.8 862.0,756.8 872.8,754.9 883.5,751.2 894.3,747.9 905.1,745.6 915.9,744.8 926.7,744.7 937.5,742.4 948.3,739.0 959.1,737.2 969.8,736.2 980.6,736.2 991.4,734.9 1002.2,735.8 1013.0,736.8 1023.8,737.7 1034.6,737.2 1045.4,736.2 1056.2,734.6 1066.9,735.5 1077.7,737.7 1088.5,739.8 1099.3,745.1 1110.1,747.4 1120.9,749.1 1131.7,750.2 1142.5,751.6 1153.3,758.0 1164.0,759.0 1174.8,760.4 1185.6,761.1 1196.4,760.1 1207.2,760.1" fill="none" stroke="#2962ff" stroke-width="1.3" stroke-linejoin="round"/>
</g>
<g shape-rendering="crispEdges" fill="#555555">
<rect x="1763" y="28" width="1" height="793"/>
<rect x="11" y="794" width="1813" height="1"/>
</g>
<text x="1772.3" y="65.8" font-family="Liberation Sans, sans-serif" font-size="10.5" fill="#131722" textLength="42.2" lengthAdjust="spacingAndGlyphs">2,640.00</text>
<text x="1772.3" y="100.8" font-family="Liberation Sans, sans-serif" font-size="10.5" fill="#131722" textLength="42.2" lengthAdjust="spacingAndGlyphs">2,620.00</text>
<text x="1772.3" y="134.8" font-family="Liberation Sans, sans-serif" font-size="10.5" fill="#131722" textLength="42.2" lengthAdjust="spacingAndGlyphs">2,600.00</text>
<text x="1772.3" y="169.8" font-family="Liberation Sans, sans-serif" font-size="10.5" fill="#131722" textLength="42.2" lengthAdjust="spacingAndGlyphs">2,580.00</text>
<text x="1772.3" y="203.8" font-family="Liberation Sans, sans-serif" font-size="10.5" fill="#131722" textLength="42.2" lengthAdjust="spacingAndGlyphs">2,560.00</text>
<text x="1772.3" y="238.8" font-family="Liberation Sans, sans-serif" font-size="10.5" fill="#131722" textLength="42.2" lengthAdjust="spacingAndGlyphs">2,540.00</text>
<text x="1772.3" y="272.8" font-family="Liberation Sans, sans-serif" font-size="10.5" fill="#131722" textLength="42.2" lengthAdjust="spacingAndGlyphs">2,520.00</text>
<text x="1772.3" y="307.8" font-family="Liberation Sans, sans-serif" font-size="10.5" fill="#131722" textLength="42.2" lengthAdjust="spacingAndGlyphs">2,500.00</text>
<text x="1772.3" y="342.8" font-family="Liberation Sans, sans-serif" font-size="10.5" fill="#131722" textLength="42.2" lengthAdjust="spacingAndGlyphs">2,480.00</text>
<text x="1772.3" y="376.8" font-family="Liberation Sans, sans-serif" font-size="10.5" fill="#131722" textLength="42.2" lengthAdjust="spacingAndGlyphs">2,460.00</text>
<text x="1772.3" y="411.8" font-family="Liberation Sans, sans-serif" font-size="10.5" fill="#131722" textLength="42.2" lengthAdjust="spacingAndGlyphs">2,440.00</text>
<text x="1772.3" y="445.8" font-family="Liberation Sans, sans-serif" font-size="10.5" fill="#131722" textLength="42.2" lengthAdjust="spacingAndGlyphs">2,420.00</text>
<text x="1772.3" y="480.8" font-family="Liberation Sans, sans-serif" font-size="10.5" fill="#131722" textLength="42.2" lengthAdjust="spacingAndGlyphs">2,400.00</text>
<text x="1772.3" y="514.8" font-family="Liberation Sans, sans-serif" font-size="10.5" fill="#131722" textLength="42.2" lengthAdjust="spacingAndGlyphs">2,380.00</text>
<text x="1772.3" y="615.2" font-family="Liberation Sans, sans-serif" font-size="10.5" fill="#131722" textLength="27.5" lengthAdjust="spacingAndGlyphs">60.00</text>
<text x="1772.3" y="665.2" font-family="Liberation Sans, sans-serif" font-size="10.5" fill="#131722" textLength="27.5" lengthAdjust="spacingAndGlyphs">40.00</text>
<text x="1772.3" y="714.2" font-family="Liberation Sans, sans-serif" font-size="10.5" fill="#131722" textLength="27.5" lengthAdjust="spacingAndGlyphs">20.00</text>
<text x="1772.3" y="741.2" font-family="Liberation Sans, sans-serif" font-size="10.5" fill="#131722" textLength="21.5" lengthAdjust="spacingAndGlyphs">0.00</text>
<text x="1772.3" y="770.2" font-family="Liberation Sans, sans-serif" font-size="10.5" fill="#131722" textLength="33.5" lengthAdjust="spacingAndGlyphs">−20.00</text>
<rect x="1764" y="28" width="60" height="32.5" fill="#fff"/>
<rect x="1767" y="30.5" width="54.5" height="26.5" rx="4" fill="#fff" stroke="#e3e6ee" stroke-width="1.2"/>
<text x="1776.2" y="47.9" font-family="Liberation Sans, sans-serif" font-size="11" fill="#131722" textLength="19" lengthAdjust="spacingAndGlyphs">USD</text>
<path d="M1764 153 H1817 a2 2 0 0 1 2 2 V168 a2 2 0 0 1 -2 2 H1764 Z" fill="#ff0000"/>
<text x="1772.2" y="165.3" font-family="Liberation Sans, sans-serif" font-size="11" font-weight="bold" fill="#fff" textLength="42.3" lengthAdjust="spacingAndGlyphs">2,583.26</text>
<path d="M1764 246 H1817 a2 2 0 0 1 2 2 V261 a2 2 0 0 1 -2 2 H1764 Z" fill="#ff0000"/>
<text x="1772.2" y="258.3" font-family="Liberation Sans, sans-serif" font-size="11" font-weight="bold" fill="#fff" textLength="42.3" lengthAdjust="spacingAndGlyphs">2,529.72</text>
<path d="M1764 349 H1817 a2 2 0 0 1 2 2 V364 a2 2 0 0 1 -2 2 H1764 Z" fill="#ff0000"/>
<text x="1772.2" y="361.3" font-family="Liberation Sans, sans-serif" font-size="11" font-weight="bold" fill="#fff" textLength="42.3" lengthAdjust="spacingAndGlyphs">2,470.43</text>
<path d="M1764 390 H1817 a2 2 0 0 1 2 2 V405 a2 2 0 0 1 -2 2 H1764 Z" fill="#ff0000"/>
<text x="1772.2" y="402.3" font-family="Liberation Sans, sans-serif" font-size="11" font-weight="bold" fill="#fff" textLength="42.3" lengthAdjust="spacingAndGlyphs">2,446.84</text>
<path d="M1764 542 H1817 a2 2 0 0 1 2 2 V557 a2 2 0 0 1 -2 2 H1764 Z" fill="#4caf50"/>
<text x="1772.2" y="554.3" font-family="Liberation Sans, sans-serif" font-size="11" font-weight="bold" fill="#fff" textLength="42.3" lengthAdjust="spacingAndGlyphs">2,358.02</text>
<path d="M1764 469 H1817 a2 2 0 0 1 2 2 V497 a2 2 0 0 1 -2 2 H1764 Z" fill="#ff0000"/>
<text x="1772.2" y="481" font-family="Liberation Sans, sans-serif" font-size="11" font-weight="bold" fill="#fff" textLength="42.3" lengthAdjust="spacingAndGlyphs">2,400.47</text>
<text x="1772.2" y="493.8" font-family="Liberation Sans, sans-serif" font-size="11" fill="#ffd9d9" textLength="26.5" lengthAdjust="spacingAndGlyphs">03:25</text>
<defs><clipPath id="ct"><rect x="11" y="795" width="1752" height="26"/></clipPath></defs><g clip-path="url(#ct)">
<text x="20.4" y="811" text-anchor="middle" font-family="Liberation Sans, sans-serif" font-size="11" fill="#131722">12:00</text>
<text x="149.9" y="811" text-anchor="middle" font-family="Liberation Sans, sans-serif" font-size="11" fill="#131722">Nov</text>
<text x="279.4" y="811" text-anchor="middle" font-family="Liberation Sans, sans-serif" font-size="11" fill="#131722">12:00</text>
<text x="408.8" y="811" text-anchor="middle" font-family="Liberation Sans, sans-serif" font-size="11" fill="#131722">2</text>
<text x="538.3" y="811" text-anchor="middle" font-family="Liberation Sans, sans-serif" font-size="11" fill="#131722">12:00</text>
<text x="667.8" y="811" text-anchor="middle" font-family="Liberation Sans, sans-serif" font-size="11" fill="#131722">3</text>
<text x="797.2" y="811" text-anchor="middle" font-family="Liberation Sans, sans-serif" font-size="11" fill="#131722">12:00</text>
<text x="926.7" y="811" text-anchor="middle" font-family="Liberation Sans, sans-serif" font-size="11" fill="#131722">4</text>
<text x="1056.2" y="811" text-anchor="middle" font-family="Liberation Sans, sans-serif" font-size="11" fill="#131722">12:00</text>
<text x="1185.6" y="811" text-anchor="middle" font-family="Liberation Sans, sans-serif" font-size="11" fill="#131722">5</text>
<text x="1315.1" y="811" text-anchor="middle" font-family="Liberation Sans, sans-serif" font-size="11" fill="#131722">12:00</text>
<text x="1444.6" y="811" text-anchor="middle" font-family="Liberation Sans, sans-serif" font-size="11" fill="#131722">6</text>
<text x="1574.0" y="811" text-anchor="middle" font-family="Liberation Sans, sans-serif" font-size="11" fill="#131722">12:00</text>
<text x="1703.5" y="811" text-anchor="middle" font-family="Liberation Sans, sans-serif" font-size="11" fill="#131722">7</text>
</g>
<text x="10.2" y="18.8" font-family="Liberation Sans, sans-serif" font-size="12.5" fill="#131722" textLength="369" lengthAdjust="spacingAndGlyphs">aayushjindal published on TradingView.com, Nov 05, 2024 02:56 UTC</text>
<text x="18.1" y="45.8" font-family="Liberation Sans, sans-serif" font-size="12" fill="#4a4a4a" textLength="191.7" lengthAdjust="spacingAndGlyphs">Ethereum / U.S. Dollar, 1h, KRAKEN</text>
<text x="218" y="45.8" font-family="Liberation Sans, sans-serif" font-size="12" fill="#4a4a4a" textLength="8.3" lengthAdjust="spacingAndGlyphs">O</text>
<text x="226.6" y="45.8" font-family="Liberation Sans, sans-serif" font-size="12" fill="#6e2020" textLength="45.6" lengthAdjust="spacingAndGlyphs">2,409.24</text>
<text x="280.4" y="45.8" font-family="Liberation Sans, sans-serif" font-size="12" fill="#4a4a4a" textLength="7.6" lengthAdjust="spacingAndGlyphs">H</text>
<text x="288.4" y="45.8" font-family="Liberation Sans, sans-serif" font-size="12" fill="#6e2020" textLength="45.6" lengthAdjust="spacingAndGlyphs">2,414.29</text>
<text x="341.7" y="45.8" font-family="Liberation Sans, sans-serif" font-size="12" fill="#4a4a4a" textLength="6" lengthAdjust="spacingAndGlyphs">L</text>
<text x="347.8" y="45.8" font-family="Liberation Sans, sans-serif" font-size="12" fill="#6e2020" textLength="45.5" lengthAdjust="spacingAndGlyphs">2,400.01</text>
<text x="401.7" y="45.8" font-family="Liberation Sans, sans-serif" font-size="12" fill="#4a4a4a" textLength="7" lengthAdjust="spacingAndGlyphs">C</text>
<text x="409" y="45.8" font-family="Liberation Sans, sans-serif" font-size="12" fill="#6e2020" textLength="45.5" lengthAdjust="spacingAndGlyphs">2,400.47</text>
<text x="462.9" y="45.8" font-family="Liberation Sans, sans-serif" font-size="12" fill="#6e2020" textLength="77.1" lengthAdjust="spacingAndGlyphs">−8.86 (−0.37%)</text>
<text x="18.1" y="63.2" font-family="Liberation Sans, sans-serif" font-size="12" fill="#4a4a4a" textLength="158.5" lengthAdjust="spacingAndGlyphs">EMA (100, close, 0, SMA, 100)</text>
<text x="184.4" y="63.2" font-family="Liberation Sans, sans-serif" font-size="12" fill="#00bcd4" textLength="46.6" lengthAdjust="spacingAndGlyphs">2,475.96</text>
<text x="18.1" y="598.9" font-family="Liberation Sans, sans-serif" font-size="12" fill="#4a4a4a" textLength="140" lengthAdjust="spacingAndGlyphs">RSI (14, close, SMA, 14, 2)</text>
<text x="165.8" y="598.9" font-family="Liberation Sans, sans-serif" font-size="12" fill="#8e24aa" textLength="29.5" lengthAdjust="spacingAndGlyphs">40.73</text>
<text x="202.5" y="598.9" font-family="Liberation Sans, sans-serif" font-size="12" fill="#fdd835" textLength="29.5" lengthAdjust="spacingAndGlyphs">39.79</text>
<text x="240.5" y="598.9" font-family="Liberation Sans, sans-serif" font-size="12" fill="#4a4a4a" textLength="7.5" lengthAdjust="spacingAndGlyphs">∅</text>
<text x="255.3" y="598.9" font-family="Liberation Sans, sans-serif" font-size="12" fill="#4a4a4a" textLength="7.5" lengthAdjust="spacingAndGlyphs">∅</text>
<text x="17.9" y="735.5" font-family="Liberation Sans, sans-serif" font-size="12" fill="#4a4a4a" textLength="185" lengthAdjust="spacingAndGlyphs">MACD (12, 26, close, 9, EMA, EMA)</text>
<text x="211" y="735.5" font-family="Liberation Sans, sans-serif" font-size="12" fill="#ffcdd2" textLength="28" lengthAdjust="spacingAndGlyphs">−2.76</text>
<text x="247.7" y="735.5" font-family="Liberation Sans, sans-serif" font-size="12" fill="#2962ff" textLength="34" lengthAdjust="spacingAndGlyphs">−16.11</text>
<text x="291.6" y="735.5" font-family="Liberation Sans, sans-serif" font-size="12" fill="#ff6d00" textLength="34.6" lengthAdjust="spacingAndGlyphs">−13.36</text>
<g fill="#131722"><path d="M10 834.1 H17.8 V843.8 H13.4 V838.2 H10 Z"/><circle cx="21.05" cy="835.9" r="1.7"/><path d="M24.5 834.1 H29.8 L25.8 843.8 H21.3 Z"/></g>
<text x="33" y="843.8" font-family="Liberation Sans, sans-serif" font-size="13" fill="#131722" textLength="70.3" lengthAdjust="spacingAndGlyphs">TradingView</text>
</svg></body></html>
